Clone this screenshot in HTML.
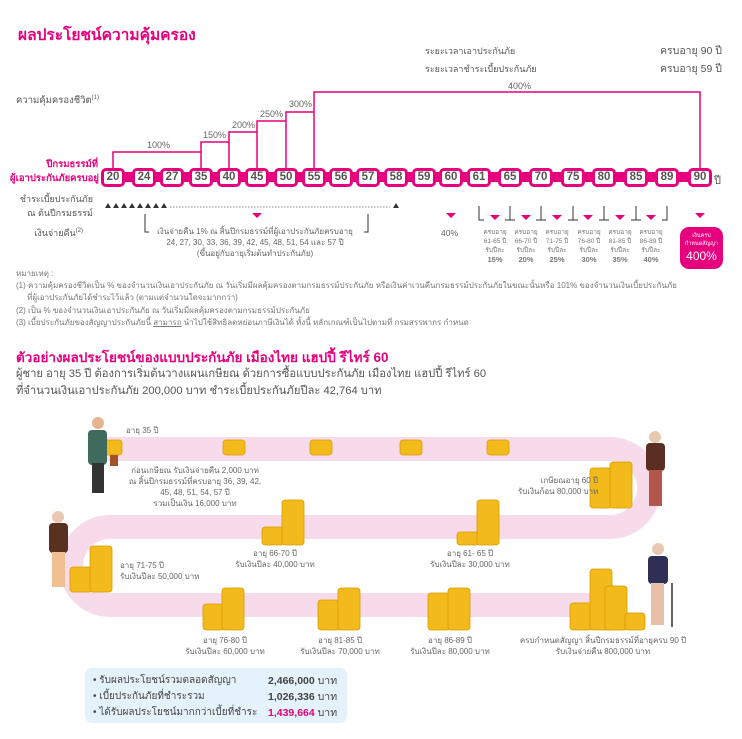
<!DOCTYPE html>
<html><head><meta charset="utf-8"><style>
*{margin:0;padding:0;box-sizing:border-box}
body{width:742px;height:739px;background:#fff;position:relative;overflow:hidden;font-family:"Liberation Sans","Noto Sans CJK SC",sans-serif;color:#555}
.a{position:absolute;white-space:nowrap}
.pk{color:#e6007e}
.s{font-size:8px;color:#666;line-height:11px}
.c{text-align:center}
.n{position:absolute;top:168px;width:24px;height:19px;border:3px solid #e6007e;border-radius:5px;background:#fff;font-size:11.5px;color:#555;text-align:center;line-height:13px;font-weight:bold}
</style></head><body>
<svg class="a" style="left:0;top:0" width="742" height="739">
<rect x="105" y="172" width="605" height="10" fill="#e6007e"/>
<g fill="none" stroke="#e6007e" stroke-width="1.5">
<path d="M113 170V152H201"/><path d="M201 170V142H229"/><path d="M229 170V132H257"/><path d="M257 170V121H286"/><path d="M286 170V112H314"/><path d="M314 170V92H700V170"/>
</g>
<g fill="#333"><path d="M105 208l3-5 3 5z M113 208l3-5 3 5z M121 208l3-5 3 5z M129 208l3-5 3 5z M137 208l3-5 3 5z M145 208l3-5 3 5z M153 208l3-5 3 5z M161 208l3-5 3 5z M393 208l3-5 3 5z"/></g>
<line x1="170" y1="207" x2="390" y2="207" stroke="#888" stroke-dasharray="1.5,1.5"/>
<g fill="none" stroke="#333" stroke-width="1">
<path d="M145 214V232H149"/><path d="M368 214V232H364"/>
<path d="M479 206V220H484"/><path d="M510 206V220H505M510 220H515"/><path d="M541 206V220H536M541 220H546"/><path d="M573 206V220H568M573 220H578"/><path d="M604 206V220H599M604 220H609"/><path d="M636 206V220H631M636 220H641"/><path d="M667 206V220H662"/>
</g>
<g fill="#e6007e">
<path d="M252 213h10l-5 5z M446 213h10l-5 5z M490 215h10l-5 5z M521 215h10l-5 5z M552 215h10l-5 5z M583 215h10l-5 5z M615 215h10l-5 5z M646 215h10l-5 5z M695 213h10l-5 5z"/>
<rect x="680" y="227" width="43" height="42" rx="9"/>
</g>
<path d="M100 449H610A38 38 0 0 1 610 527H110A39 39 0 0 0 110 605H610" fill="none" stroke="#f8dbea" stroke-width="24"/>
<g fill="#f2bb1b" stroke="#d99a00" stroke-width="0.8">
<rect x="100" y="440" width="22" height="15" rx="3"/><rect x="223" y="440" width="22" height="15" rx="3"/><rect x="310" y="440" width="22" height="15" rx="3"/><rect x="400" y="440" width="22" height="15" rx="3"/><rect x="487" y="440" width="22" height="15" rx="3"/>
<rect x="590" y="468" width="22" height="40" rx="3"/><rect x="610" y="462" width="22" height="46" rx="3"/>
<rect x="262" y="527" width="22" height="18" rx="3"/><rect x="282" y="500" width="22" height="45" rx="3"/>
<rect x="457" y="532" width="22" height="13" rx="3"/><rect x="477" y="500" width="22" height="45" rx="3"/>
<rect x="70" y="567" width="22" height="25" rx="3"/><rect x="90" y="546" width="22" height="46" rx="3"/>
<rect x="203" y="604" width="22" height="26" rx="3"/><rect x="222" y="588" width="22" height="42" rx="3"/>
<rect x="318" y="600" width="22" height="30" rx="3"/><rect x="338" y="588" width="22" height="42" rx="3"/>
<rect x="428" y="593" width="22" height="37" rx="3"/><rect x="448" y="588" width="22" height="42" rx="3"/>
<rect x="570" y="603" width="22" height="27" rx="3"/><rect x="590" y="569" width="22" height="61" rx="3"/><rect x="605" y="586" width="22" height="44" rx="3"/><rect x="625" y="613" width="20" height="17" rx="3"/>
</g>
<g>
<circle cx="98" cy="423" r="6" fill="#e8b48f"/><rect x="88" y="430" width="19" height="35" rx="4" fill="#3f6b5e"/><rect x="92" y="463" width="12" height="30" fill="#333"/><rect x="110" y="455" width="8" height="11" fill="#a0522d"/>
<circle cx="655" cy="437" r="6" fill="#e8c8b0"/><rect x="646" y="443" width="19" height="28" rx="4" fill="#5a2e22"/><rect x="649" y="470" width="13" height="36" fill="#b5564a"/>
<circle cx="58" cy="517" r="6" fill="#e8c8b0"/><rect x="49" y="523" width="19" height="30" rx="4" fill="#5a3020"/><rect x="52" y="552" width="13" height="35" fill="#f0c090"/>
<circle cx="658" cy="549" r="6" fill="#e8c8b0"/><rect x="648" y="556" width="20" height="28" rx="4" fill="#2f2f55"/><rect x="651" y="583" width="13" height="42" fill="#e8c0a8"/><line x1="672" y1="583" x2="672" y2="627" stroke="#333" stroke-width="1.5"/>
</g>
<rect x="85" y="668" width="262" height="55" rx="7" fill="#e3f2fb"/>
</svg>

<div class="a pk" style="left:18px;top:22px;font-size:15.5px;font-weight:bold">ผลประโยชน์ความคุ้มครอง</div>
<div class="a" style="left:425px;top:44px;font-size:9px">ระยะเวลาเอาประกันภัย</div>
<div class="a" style="left:660px;top:42px;font-size:10.5px">ครบอายุ 90 ปี</div>
<div class="a" style="left:425px;top:62px;font-size:9px">ระยะเวลาชำระเบี้ยประกันภัย</div>
<div class="a" style="left:660px;top:60px;font-size:10.5px">ครบอายุ 59 ปี</div>
<div class="a" style="left:16px;top:93px;font-size:9.5px">ความคุ้มครองชีวิต<sup style="font-size:6px">(1)</sup></div>
<div class="a s" style="left:147px;top:140px;font-size:9px">100%</div>
<div class="a s" style="left:203px;top:130px;font-size:9px">150%</div>
<div class="a s" style="left:232px;top:120px;font-size:9px">200%</div>
<div class="a s" style="left:260px;top:109px;font-size:9px">250%</div>
<div class="a s" style="left:289px;top:99px;font-size:9px">300%</div>
<div class="a s" style="left:508px;top:81px;font-size:9px">400%</div>
<div class="a pk" style="left:10px;top:158px;width:88px;text-align:right;font-size:9.5px;font-weight:bold;line-height:14px">ปีกรมธรรม์ที่<br>ผู้เอาประกันภัยครบอยู่</div>
<div class="a" style="left:10px;top:192px;width:83px;text-align:right;font-size:9px;line-height:14px">ชำระเบี้ยประกันภัย<br>ณ ต้นปีกรมธรรม์</div>
<div class="a" style="left:10px;top:226px;width:73px;text-align:right;font-size:9px">เงินจ่ายคืน<sup style="font-size:6px">(2)</sup></div>
<div class="n" style="left:101px">20</div><div class="n" style="left:132px">24</div><div class="n" style="left:160px">27</div><div class="n" style="left:189px">35</div><div class="n" style="left:217px">40</div><div class="n" style="left:245px">45</div><div class="n" style="left:274px">50</div><div class="n" style="left:302px">55</div><div class="n" style="left:329px">56</div><div class="n" style="left:356px">57</div><div class="n" style="left:384px">58</div><div class="n" style="left:412px">59</div><div class="n" style="left:439px">60</div><div class="n" style="left:467px">61</div><div class="n" style="left:498px">65</div><div class="n" style="left:529px">70</div><div class="n" style="left:561px">75</div><div class="n" style="left:592px">80</div><div class="n" style="left:624px">85</div><div class="n" style="left:655px">89</div><div class="n" style="left:688px">90</div>
<div class="a" style="left:714px;top:171px;font-size:11px">ปี</div>
<div class="a s c" style="left:150px;top:226px;width:210px">เงินจ่ายคืน 1% ณ สิ้นปีกรมธรรม์ที่ผู้เอาประกันภัยครบอายุ<br>24, 27, 30, 33, 36, 39, 42, 45, 48, 51, 54 และ 57 ปี<br>(ขึ้นอยู่กับอายุเริ่มต้นทำประกันภัย)</div>
<div class="a s" style="left:441px;top:228px;font-size:8.5px">40%</div>
<div class="a c" style="left:481px;top:228px;width:28px;font-size:6.5px;line-height:9px;color:#777">ครบอายุ<br>61-65 ปี<br>รับปีละ<br><b style="font-size:7.5px">15%</b></div>
<div class="a c" style="left:512px;top:228px;width:28px;font-size:6.5px;line-height:9px;color:#777">ครบอายุ<br>66-70 ปี<br>รับปีละ<br><b style="font-size:7.5px">20%</b></div>
<div class="a c" style="left:543px;top:228px;width:28px;font-size:6.5px;line-height:9px;color:#777">ครบอายุ<br>71-75 ปี<br>รับปีละ<br><b style="font-size:7.5px">25%</b></div>
<div class="a c" style="left:575px;top:228px;width:28px;font-size:6.5px;line-height:9px;color:#777">ครบอายุ<br>76-80 ปี<br>รับปีละ<br><b style="font-size:7.5px">30%</b></div>
<div class="a c" style="left:606px;top:228px;width:28px;font-size:6.5px;line-height:9px;color:#777">ครบอายุ<br>81-85 ปี<br>รับปีละ<br><b style="font-size:7.5px">35%</b></div>
<div class="a c" style="left:637px;top:228px;width:28px;font-size:6.5px;line-height:9px;color:#777">ครบอายุ<br>86-89 ปี<br>รับปีละ<br><b style="font-size:7.5px">40%</b></div>
<div class="a c" style="left:680px;top:232px;width:43px;font-size:5.5px;line-height:8px;color:#fff">เงินครบ<br>กำหนดสัญญา<br><span style="font-size:12px;line-height:16px">400%</span></div>
<div class="a" style="left:16px;top:268px;font-size:8px;line-height:12.2px;color:#777">หมายเหตุ :<br>(1) ความคุ้มครองชีวิตเป็น % ของจำนวนเงินเอาประกันภัย ณ วันเริ่มมีผลคุ้มครองตามกรมธรรม์ประกันภัย หรือเงินค่าเวนคืนกรมธรรม์ประกันภัยในขณะนั้นหรือ 101% ของจำนวนเงินเบี้ยประกันภัย<br>&nbsp;&nbsp;&nbsp;&nbsp;&nbsp;ที่ผู้เอาประกันภัยได้ชำระไว้แล้ว (ตามแต่จำนวนใดจะมากกว่า)<br>(2) เป็น % ของจำนวนเงินเอาประกันภัย ณ วันเริ่มมีผลคุ้มครองตามกรมธรรม์ประกันภัย<br>(3) เบี้ยประกันภัยของสัญญาประกันภัยนี้ <u>สามารถ</u> นำไปใช้สิทธิลดหย่อนภาษีเงินได้ ทั้งนี้ หลักเกณฑ์เป็นไปตามที่ กรมสรรพากร กำหนด</div>
<div class="a pk" style="left:16px;top:346px;font-size:13.5px;font-weight:bold">ตัวอย่างผลประโยชน์ของแบบประกันภัย เมืองไทย แฮปปี้ รีไทร์ 60</div>
<div class="a" style="left:16px;top:366px;font-size:11.2px;line-height:17px;color:#555">ผู้ชาย อายุ 35 ปี ต้องการเริ่มต้นวางแผนเกษียณ ด้วยการซื้อแบบประกันภัย เมืองไทย แฮปปี้ รีไทร์ 60<br>ที่จำนวนเงินเอาประกันภัย 200,000 บาท ชำระเบี้ยประกันภัยปีละ 42,764 บาท</div>
<div class="a s" style="left:126px;top:425px">อายุ 35 ปี</div>
<div class="a s c" style="left:125px;top:465px;width:140px">ก่อนเกษียณ รับเงินจ่ายคืน 2,000 บาท<br>ณ สิ้นปีกรมธรรม์ที่ครบอายุ 36, 39, 42,<br>45, 48, 51, 54, 57 ปี<br>รวมเป็นเงิน 16,000 บาท</div>
<div class="a s" style="left:518px;top:475px;text-align:right;width:80px">เกษียณอายุ 60 ปี<br>รับเงินก้อน 80,000 บาท</div>
<div class="a s c" style="left:235px;top:548px;width:80px">อายุ 66-70 ปี<br>รับเงินปีละ 40,000 บาท</div>
<div class="a s c" style="left:430px;top:548px;width:80px">อายุ 61- 65 ปี<br>รับเงินปีละ 30,000 บาท</div>
<div class="a s" style="left:120px;top:560px">อายุ 71-75 ปี<br>รับเงินปีละ 50,000 บาท</div>
<div class="a s c" style="left:185px;top:635px;width:80px">อายุ 76-80 ปี<br>รับเงินปีละ 60,000 บาท</div>
<div class="a s c" style="left:300px;top:635px;width:80px">อายุ 81-85 ปี<br>รับเงินปีละ 70,000 บาท</div>
<div class="a s c" style="left:410px;top:635px;width:80px">อายุ 86-89 ปี<br>รับเงินปีละ 80,000 บาท</div>
<div class="a s c" style="left:518px;top:635px;width:170px">ครบกำหนดสัญญา สิ้นปีกรมธรรม์ที่อายุครบ 90 ปี<br>รับเงินจ่ายคืน 800,000 บาท</div>
<div class="a" style="left:93px;top:673px;font-size:10px;line-height:16px;color:#444">• รับผลประโยชน์รวมตลอดสัญญา<br>• เบี้ยประกันภัยที่ชำระรวม<br>• ได้รับผลประโยชน์มากกว่าเบี้ยที่ชำระ</div>
<div class="a" style="left:268px;top:673px;font-size:10.5px;line-height:16px;color:#444;font-weight:bold">2,466,000 <span style="font-weight:normal">บาท</span><br>1,026,336 <span style="font-weight:normal">บาท</span><br><span class="pk">1,439,664</span> <span style="font-weight:normal">บาท</span></div>
</body></html>
